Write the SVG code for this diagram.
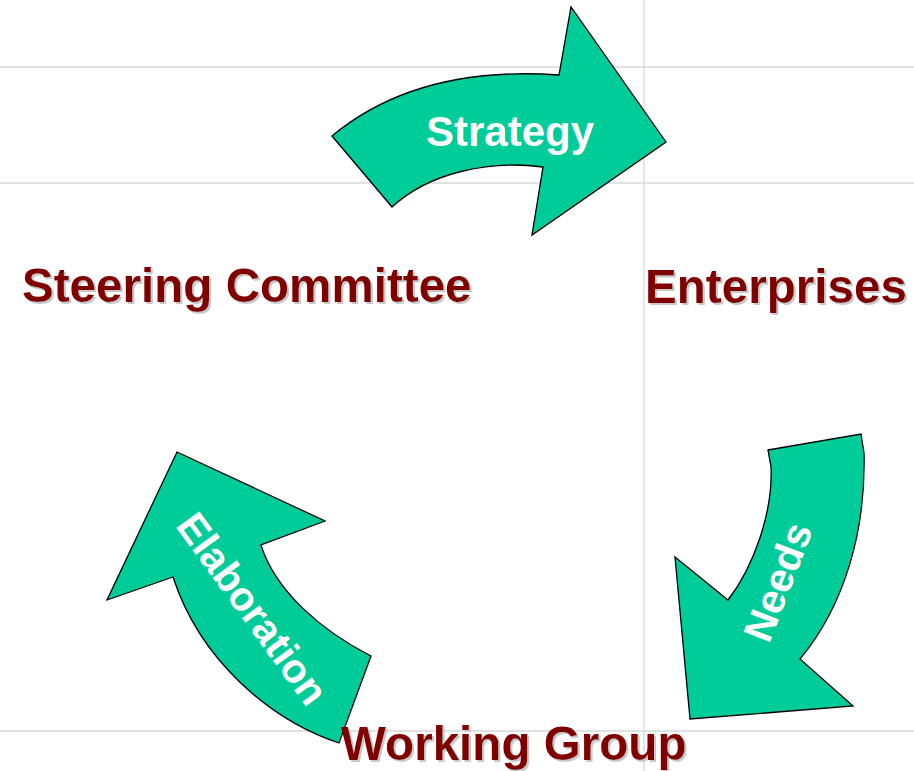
<svg xmlns="http://www.w3.org/2000/svg" width="914" height="771" viewBox="0 0 914 771">
  <defs>
    <filter id="shadow" x="-5%" y="-20%" width="110%" height="140%">
      <feOffset in="SourceAlpha" dx="2" dy="2" result="off"/>
      <feFlood flood-color="#c8c8c8" result="col"/>
      <feComposite in="col" in2="off" operator="in" result="sh"/>
      <feMerge>
        <feMergeNode in="sh"/>
        <feMergeNode in="SourceGraphic"/>
      </feMerge>
    </filter>
  </defs>
  <style>
    .grid { stroke: #d9d9d9; stroke-width: 1.3; fill: none; }
    .arrow { fill: #00CC99; stroke: #000000; stroke-width: 1.3; stroke-linejoin: miter; }
    .alabel { font-family: "Liberation Sans", Arial, sans-serif; font-weight: bold; fill: #ffffff; }
    .node text { font-family: "Liberation Sans", Arial, sans-serif; font-weight: bold; font-size: 47.6px; fill: #800000; filter: url(#shadow); }
  </style>
  <rect x="0" y="0" width="914" height="771" fill="#ffffff"/>
  <g id="grid">
    <line class="grid" x1="0" y1="67" x2="914" y2="67"/>
    <line class="grid" x1="0" y1="183" x2="914" y2="183"/>
    <line class="grid" x1="0" y1="731" x2="914" y2="731"/>
    <line class="grid" x1="644" y1="0" x2="644" y2="771"/>
  </g>
  <g id="connectors">
    <g id="arrow-strategy">
      <path class="arrow" d="M332,136 C385,92 460,68 559,75 L571,7 L666,142 L532,235 L543,167 C490,160 430,172 392,207 Z"/>
      <text class="alabel" x="426" y="146" font-size="42">Strategy</text>
    </g>
    <g id="arrow-needs">
      <path class="arrow" d="M768,450 L861,434 L864,453 C866,530 845,605 800,659 L853,706 L690,719 L675,557 L728,600 C755,565 773,510 771,467 Z"/>
      <text class="alabel" font-size="41" text-anchor="middle" transform="translate(791,587) rotate(-69)">Needs</text>
    </g>
    <g id="arrow-elaboration">
      <path class="arrow" d="M177,452 L325,521 L261,545 C275,590 320,630 371,656 L339,743 C270,720 200,660 173,577 L107,600 Z"/>
      <text class="alabel" font-size="41" text-anchor="middle" transform="translate(241,617) rotate(54)">Elaboration</text>
    </g>
  </g>
  <g id="node-steering-committee" class="node">
    <text x="22" y="302">Steering Committee</text>
  </g>
  <g id="node-enterprises" class="node">
    <text x="645" y="303">Enterprises</text>
  </g>
  <g id="node-working-group" class="node">
    <text x="341" y="760">Working Group</text>
  </g>
</svg>
